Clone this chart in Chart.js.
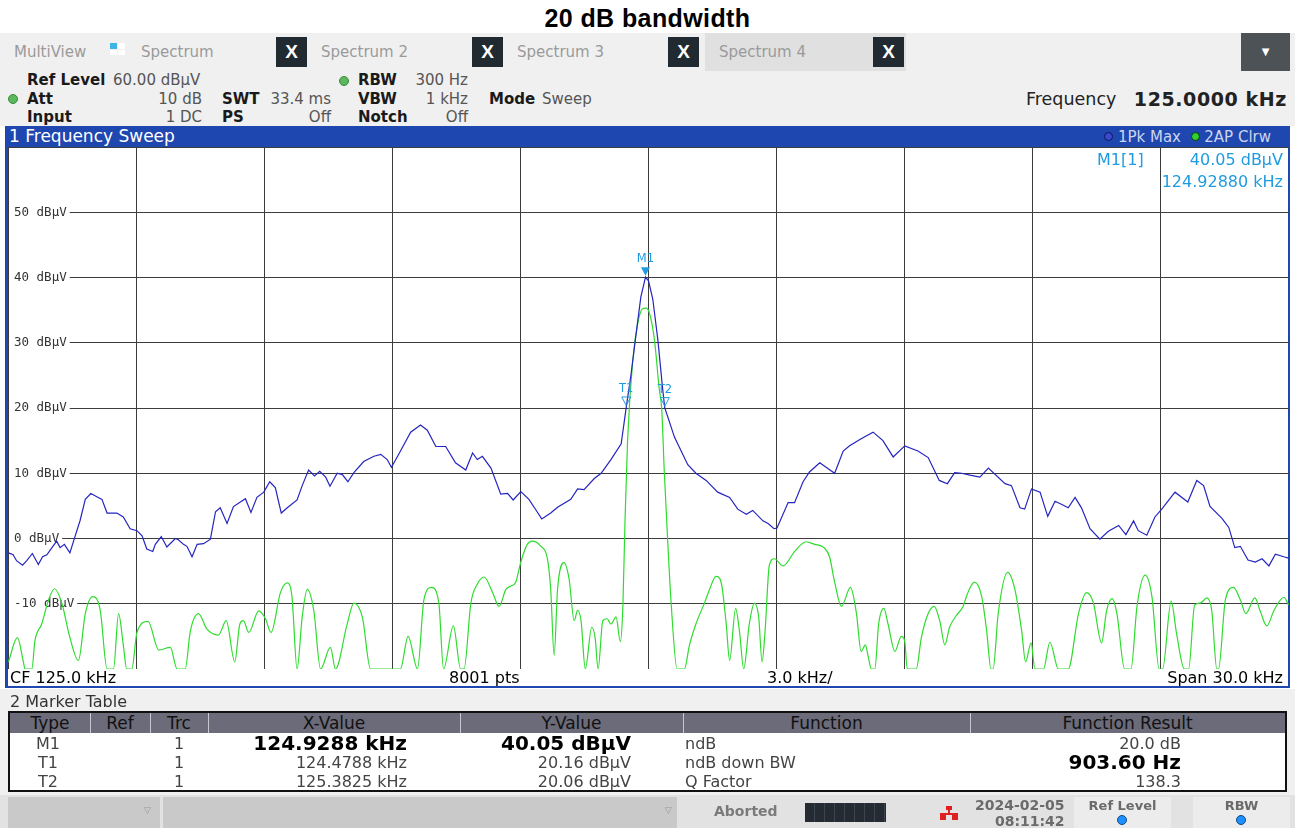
<!DOCTYPE html>
<html>
<head>
<meta charset="utf-8">
<script src="https://cdn.jsdelivr.net/npm/chart.js@4.4.1/dist/chart.umd.min.js"></script>
<style>
body{margin:0;width:1295px;height:828px;position:relative;overflow:hidden;background:#fff;font-family:"DejaVu Sans",sans-serif;}
.a{position:absolute;white-space:nowrap;}
.lbl{font-size:15px;line-height:18px;color:#1a1a1a;font-weight:600;}
.val{font-size:15px;line-height:18px;color:#555;}
.tab{font-size:15px;line-height:18px;color:#9a9a9a;top:43px;}
.x{top:37px;width:31px;height:30px;background:#222a31;color:#fff;font:bold 19px "Liberation Sans",sans-serif;line-height:30px;text-align:center;}
.gdot{width:8px;height:8px;border-radius:50%;background:#5cb85c;border:1px solid #3a8a3a;}
.th{top:713px;height:20px;line-height:20px;font-size:17px;color:#111;text-align:center;}
.td{font-size:16px;line-height:19px;color:#444;}
.tb{font:bold 20px "DejaVu Sans",sans-serif;line-height:19px;color:#000;}
</style>
</head>
<body>
<div class="a" style="left:0;top:4px;width:1295px;text-align:center;font:bold 25px 'Liberation Sans',Arial,sans-serif;letter-spacing:0.4px;">20 dB bandwidth</div>

<!-- header panel -->
<div class="a" style="left:0;top:33px;width:1295px;height:93px;background:#f0f0f0;"></div>
<div class="a tab" style="left:14px;">MultiView</div>
<div class="a" style="left:110px;top:43px;width:7px;height:6px;background:#3cb4e6;"></div>
<div class="a" style="left:118px;top:43px;width:7px;height:6px;background:#fff;"></div>
<div class="a" style="left:110px;top:50px;width:7px;height:5px;background:#fff;"></div>
<div class="a" style="left:118px;top:50px;width:7px;height:5px;background:#fff;"></div>
<div class="a tab" style="left:141px;">Spectrum</div>
<div class="a x" style="left:276px;">X</div>
<div class="a tab" style="left:321px;">Spectrum 2</div>
<div class="a x" style="left:472px;">X</div>
<div class="a tab" style="left:517px;">Spectrum 3</div>
<div class="a x" style="left:668px;">X</div>
<div class="a" style="left:705px;top:33px;width:201px;height:38px;background:#e0e0e0;"></div>
<div class="a tab" style="left:719px;">Spectrum 4</div>
<div class="a x" style="left:873px;">X</div>
<div class="a" style="left:1241px;top:33px;width:49px;height:38px;background:#4d5257;color:#fff;font-size:10px;line-height:38px;text-align:center;">▼</div>

<div class="a lbl" style="left:27px;top:71px;">Ref Level</div>
<div class="a val" style="left:113px;top:71px;">60.00 dBμV</div>
<div class="a gdot" style="left:339px;top:76px;"></div>
<div class="a lbl" style="left:358px;top:71px;">RBW</div>
<div class="a val" style="right:827px;top:71px;">300 Hz</div>

<div class="a gdot" style="left:8px;top:94px;"></div>
<div class="a lbl" style="left:27px;top:90px;">Att</div>
<div class="a val" style="right:1093px;top:90px;">10 dB</div>
<div class="a lbl" style="left:222px;top:90px;">SWT</div>
<div class="a val" style="right:964px;top:90px;">33.4 ms</div>
<div class="a lbl" style="left:358px;top:90px;">VBW</div>
<div class="a val" style="right:827px;top:90px;">1 kHz</div>
<div class="a lbl" style="left:489px;top:90px;">Mode</div>
<div class="a val" style="left:542px;top:90px;">Sweep</div>

<div class="a lbl" style="left:27px;top:108px;">Input</div>
<div class="a val" style="right:1093px;top:108px;">1 DC</div>
<div class="a lbl" style="left:222px;top:108px;">PS</div>
<div class="a val" style="right:964px;top:108px;">Off</div>
<div class="a lbl" style="left:358px;top:108px;">Notch</div>
<div class="a val" style="right:827px;top:108px;">Off</div>

<div class="a" style="left:1026px;top:88px;font-size:17.5px;line-height:22px;color:#222;">Frequency</div>
<div class="a" style="right:8px;top:88px;font-size:19px;line-height:22px;font-weight:600;letter-spacing:0.6px;color:#222;">125.0000 kHz</div>

<!-- window 1 -->
<div class="a" style="left:5px;top:126px;width:1280px;height:560px;border-left:3px solid #1f47b0;border-right:2px solid #1f47b0;border-bottom:2px solid #1f47b0;background:#fff;"></div>
<div class="a" style="left:5px;top:126px;width:1285px;height:21px;background:#1f47b0;"></div>
<div class="a" style="left:9px;top:127px;font-size:17px;line-height:19px;color:#fff;">1 Frequency Sweep</div>
<div class="a" style="right:24px;top:128px;font-size:15px;line-height:18px;color:#cdd5ee;">
<span style="display:inline-block;width:7px;height:7px;border-radius:50%;background:#3b48d0;border:1px solid #0c1650;vertical-align:1px;"></span> 1Pk Max&nbsp;
<span style="display:inline-block;width:7px;height:7px;border-radius:50%;background:#30d030;border:1px solid #0a3a0a;vertical-align:1px;"></span> 2AP Clrw</div>

<div class="a" style="left:8px;top:147px;width:1281px;height:522px;"><canvas id="spec" width="1281" height="522"></canvas></div>

<div class="a" style="left:1097px;top:150px;font-size:16px;line-height:19px;color:#1f9be0;">M1[1]</div>
<div class="a" style="right:12px;top:150px;font-size:16px;line-height:19px;color:#1f9be0;">40.05 dBμV</div>
<div class="a" style="right:12px;top:172px;font-size:16px;line-height:19px;color:#1f9be0;">124.92880 kHz</div>

<div class="a" style="left:10px;top:668px;font-size:16px;line-height:19px;color:#000;">CF 125.0 kHz</div>
<div class="a" style="left:449px;top:668px;font-size:16px;line-height:19px;color:#000;">8001 pts</div>
<div class="a" style="left:767px;top:668px;font-size:16px;line-height:19px;color:#000;">3.0 kHz/</div>
<div class="a" style="right:12px;top:668px;font-size:16px;line-height:19px;color:#000;">Span 30.0 kHz</div>

<!-- marker table -->
<div class="a" style="left:0;top:689px;width:1295px;height:106px;background:#f0f0f0;"></div>
<div class="a" style="left:10px;top:692px;font-size:16px;line-height:19px;color:#333;">2 Marker Table</div>
<div class="a" style="left:8px;top:711px;width:1275px;height:77px;border:2px solid #111;background:#fff;"></div>
<div class="a" style="left:10px;top:713px;width:1275px;height:20px;background:#6b6b79;"></div>
<div class="a" style="left:90px;top:713px;width:1px;height:20px;background:#c8c8d0;"></div>
<div class="a" style="left:150px;top:713px;width:1px;height:20px;background:#c8c8d0;"></div>
<div class="a" style="left:208px;top:713px;width:1px;height:20px;background:#c8c8d0;"></div>
<div class="a" style="left:460px;top:713px;width:1px;height:20px;background:#c8c8d0;"></div>
<div class="a" style="left:683px;top:713px;width:1px;height:20px;background:#c8c8d0;"></div>
<div class="a" style="left:970px;top:713px;width:1px;height:20px;background:#c8c8d0;"></div>
<div class="a th" style="left:10px;width:80px;">Type</div>
<div class="a th" style="left:90px;width:60px;">Ref</div>
<div class="a th" style="left:150px;width:58px;">Trc</div>
<div class="a th" style="left:208px;width:252px;">X-Value</div>
<div class="a th" style="left:460px;width:223px;">Y-Value</div>
<div class="a th" style="left:683px;width:287px;">Function</div>
<div class="a th" style="left:970px;width:315px;">Function Result</div>

<div class="a td" style="left:8px;width:80px;text-align:center;top:734px;">M1</div>
<div class="a td" style="left:8px;width:80px;text-align:center;top:753px;">T1</div>
<div class="a td" style="left:8px;width:80px;text-align:center;top:772px;">T2</div>
<div class="a td" style="left:169px;width:20px;text-align:center;top:734px;">1</div>
<div class="a td" style="left:169px;width:20px;text-align:center;top:753px;">1</div>
<div class="a td" style="left:169px;width:20px;text-align:center;top:772px;">1</div>
<div class="a tb" style="right:888px;top:734px;">124.9288 kHz</div>
<div class="a td" style="right:888px;top:753px;">124.4788 kHz</div>
<div class="a td" style="right:888px;top:772px;">125.3825 kHz</div>
<div class="a tb" style="right:664px;top:734px;">40.05 dBμV</div>
<div class="a td" style="right:664px;top:753px;">20.16 dBμV</div>
<div class="a td" style="right:664px;top:772px;">20.06 dBμV</div>
<div class="a td" style="left:685px;top:734px;">ndB</div>
<div class="a td" style="left:685px;top:753px;">ndB down BW</div>
<div class="a td" style="left:685px;top:772px;">Q Factor</div>
<div class="a td" style="right:114px;top:734px;">20.0 dB</div>
<div class="a tb" style="right:114px;top:753px;">903.60 Hz</div>
<div class="a td" style="right:114px;top:772px;">138.3</div>

<!-- status bar -->
<div class="a" style="left:0;top:795px;width:1295px;height:33px;background:#e2e2e2;"></div>
<div class="a" style="left:8px;top:797px;width:152px;height:31px;background:#c9c9c9;"></div>
<div class="a" style="left:144px;top:805px;font-size:9px;color:#999;">▽</div>
<div class="a" style="left:163px;top:797px;width:514px;height:31px;background:#c9c9c9;"></div>
<div class="a" style="left:665px;top:805px;font-size:9px;color:#999;">▽</div>
<div class="a" style="left:714px;top:803px;font-size:14px;font-weight:600;color:#7a7a7a;">Aborted</div>
<div class="a" style="left:805px;top:803px;width:81px;height:19px;background:repeating-linear-gradient(90deg,#252b33 0 9px,#3e454e 9px 10px);"></div>
<div class="a" style="left:946px;top:806px;width:6px;height:4px;background:#e02020;"></div>
<div class="a" style="left:948px;top:810px;width:2px;height:4px;background:#e02020;"></div>
<div class="a" style="left:940px;top:813px;width:18px;height:2px;background:#e02020;"></div>
<div class="a" style="left:940px;top:815px;width:6px;height:5px;background:#e02020;"></div>
<div class="a" style="left:952px;top:815px;width:6px;height:5px;background:#e02020;"></div>
<div class="a" style="left:975px;top:797px;font-size:14px;font-weight:600;line-height:16px;color:#6a6a6a;text-align:right;">2024-02-05<br>&nbsp;08:11:42</div>
<div class="a" style="left:1074px;top:797px;width:97px;height:31px;background:#ececec;"></div>
<div class="a" style="left:1074px;top:798px;width:97px;text-align:center;font-size:13px;font-weight:600;color:#6a6a6a;">Ref Level</div>
<div class="a" style="left:1117px;top:815px;width:8px;height:8px;border-radius:50%;background:#1e90ff;border:1px solid #124a80;"></div>
<div class="a" style="left:1193px;top:797px;width:97px;height:31px;background:#ececec;"></div>
<div class="a" style="left:1193px;top:798px;width:97px;text-align:center;font-size:13px;font-weight:600;color:#6a6a6a;">RBW</div>
<div class="a" style="left:1236px;top:815px;width:8px;height:8px;border-radius:50%;background:#1e90ff;border:1px solid #124a80;"></div>

<script>
// trace 1: 1Pk Max (kHz / dBµV)
const blueFreq = [
  110.01, 110.12, 110.20, 110.34, 110.44, 110.57, 110.71, 110.81, 110.91, 111.03,
  111.14, 111.22, 111.32, 111.45, 111.55, 111.69, 111.81, 111.94, 112.08, 112.20,
  112.32, 112.55, 112.70, 112.86, 113.02, 113.14, 113.25, 113.39, 113.45, 113.59,
  113.72, 113.92, 113.99, 114.11, 114.19, 114.31, 114.43, 114.58, 114.74, 114.86,
  114.97, 115.13, 115.28, 115.56, 115.69, 115.83, 115.99, 116.13, 116.26, 116.40,
  116.54, 116.77, 116.89, 117.04, 117.18, 117.30, 117.44, 117.54, 117.71, 117.83,
  117.96, 118.10, 118.33, 118.57, 118.73, 118.88, 118.98, 119.15, 119.43, 119.66,
  119.82, 120.02, 120.25, 120.48, 120.72, 120.88, 120.99, 121.11, 121.31, 121.54,
  121.70, 121.83, 122.01, 122.20, 122.36, 122.50, 122.71, 122.87, 123.18, 123.34,
  123.49, 123.73, 123.89, 124.12, 124.36, 124.48, 124.59, 124.71, 124.82, 124.93,
  125.00, 125.10, 125.22, 125.33, 125.38, 125.61, 125.92, 126.11, 126.35, 126.62,
  126.90, 127.09, 127.29, 127.44, 127.68, 127.80, 127.94, 128.01, 128.27, 128.42,
  128.62, 128.77, 129.01, 129.36, 129.56, 129.71, 129.98, 130.26, 130.49, 130.73,
  131.00, 131.31, 131.55, 131.81, 132.00, 132.17, 132.33, 132.53, 132.76, 132.96,
  133.35, 133.50, 133.70, 133.81, 133.97, 134.17, 134.35, 134.52, 134.68, 134.83,
  134.99, 135.14, 135.34, 135.57, 135.77, 136.01, 136.18, 136.36, 136.47, 136.67,
  136.86, 137.02, 137.33, 137.63, 137.84, 138.00, 138.15, 138.43, 138.59, 138.73,
  138.86, 139.04, 139.21, 139.37, 139.53, 139.68, 139.88, 139.99
];
const blueLevel = [
  -2.2, -2.5, -3.4, -4.1, -3.4, -2.3, -4.0, -2.8, -2.5, -1.4,
  -0.4, -1.4, -0.9, -2.2, -0.1, 2.8, 6.0, 6.9, 6.4, 6.0,
  3.9, 3.9, 3.3, 1.5, 1.2, 0.4, -1.6, -2.0, -0.9, 0.3,
  -1.3, 0.0, -0.2, -0.9, -1.2, -2.8, -0.9, -0.8, -0.1, 4.1,
  4.7, 2.3, 4.9, 6.1, 4.0, 6.3, 7.1, 8.7, 7.8, 3.9,
  4.7, 5.9, 8.1, 10.5, 9.6, 10.3, 9.4, 8.0, 10.0, 9.8,
  8.7, 10.1, 11.8, 12.6, 12.9, 12.1, 10.9, 12.9, 16.3, 17.4,
  16.6, 14.1, 14.1, 11.6, 10.5, 13.1, 12.1, 12.6, 10.8, 6.8,
  6.9, 5.9, 7.2, 6.0, 4.4, 3.0, 3.9, 4.8, 6.0, 7.6,
  7.5, 9.2, 10.0, 12.1, 14.5, 20.16, 25.1, 31.4, 37.0, 40.05,
  39.5, 36.7, 30.4, 23.0, 20.06, 15.5, 11.3, 10.0, 8.9, 7.1,
  6.3, 4.5, 3.7, 4.3, 2.7, 2.3, 1.5, 1.6, 5.5, 5.5,
  8.7, 10.2, 11.6, 10.0, 13.4, 14.2, 15.3, 16.3, 15.0, 12.5,
  14.2, 13.4, 12.4, 8.9, 8.4, 10.1, 10.0, 9.7, 9.4, 10.8,
  8.4, 8.1, 4.7, 4.5, 7.6, 7.1, 3.4, 5.7, 5.2, 4.7,
  6.3, 4.7, 1.5, -0.1, 1.1, 2.0, 0.6, 2.7, 1.2, 0.5,
  3.3, 4.5, 7.1, 5.6, 8.9, 8.1, 4.9, 3.1, 1.7, -1.4,
  -1.2, -3.3, -3.6, -3.1, -4.2, -2.4, -2.8, -3.0
];

// trace 2: AP Clrw (kHz / dBµV), -20 = bottom of the display
const greenFreq = [
  110.01, 110.22, 110.36, 110.40, 110.56, 110.63, 110.79, 110.95, 111.09, 111.26,
  111.45, 111.65, 111.81, 111.99, 112.16, 112.32, 112.47, 112.59, 112.70, 112.78,
  112.90, 113.02, 113.28, 113.53, 113.80, 113.96, 114.15, 114.27, 114.46, 114.66,
  114.93, 115.11, 115.31, 115.43, 115.51, 115.64, 115.87, 116.03, 116.16, 116.38,
  116.54, 116.65, 116.77, 116.89, 117.01, 117.16, 117.32, 117.55, 117.67, 117.94,
  118.10, 118.30, 118.49, 119.19, 119.37, 119.59, 119.74, 119.92, 120.09, 120.20,
  120.43, 120.60, 120.68, 120.84, 120.99, 121.15, 121.35, 121.50, 121.66, 121.77,
  121.89, 122.01, 122.16, 122.28, 122.48, 122.63, 122.71, 122.79, 122.87, 123.02,
  123.14, 123.26, 123.34, 123.42, 123.52, 123.67, 123.75, 123.82, 123.93, 124.03,
  124.12, 124.24, 124.34, 124.40, 124.45, 124.51, 124.63, 124.75, 124.86, 124.94,
  125.02, 125.14, 125.25, 125.31, 125.37, 125.45, 125.53, 125.67, 125.84, 125.96,
  126.11, 126.31, 126.43, 126.58, 126.70, 126.82, 126.90, 127.04, 127.13, 127.23,
  127.36, 127.48, 127.58, 127.66, 127.73, 127.83, 127.95, 128.15, 128.42, 128.69,
  128.89, 129.11, 129.24, 129.36, 129.52, 129.73, 129.87, 129.98, 130.08, 130.14,
  130.22, 130.30, 130.39, 130.51, 130.61, 130.77, 130.92, 131.00, 131.06, 131.27,
  131.39, 131.55, 131.69, 131.82, 131.94, 132.05, 132.21, 132.37, 132.45, 132.63,
  132.80, 132.92, 133.02, 133.07, 133.19, 133.41, 133.58, 133.74, 133.83, 133.96,
  134.05, 134.25, 134.40, 134.60, 134.83, 135.07, 135.26, 135.42, 135.61, 135.73,
  135.86, 135.97, 136.15, 136.30, 136.44, 136.63, 136.79, 136.96, 137.04, 137.24,
  137.37, 137.55, 137.65, 137.79, 137.92, 138.08, 138.19, 138.31, 138.35, 138.51,
  138.70, 138.86, 138.99, 139.20, 139.33, 139.48, 139.65, 139.88, 139.99
];
const greenLevel = [
  -18.9, -15.2, -18.9, -20, -20, -15.7, -13.1, -9.4, -7.7, -9.9,
  -15.2, -18.7, -11.5, -8.9, -11.0, -20, -20, -11.5, -16.3, -20,
  -20, -14.4, -12.7, -17.1, -16.7, -20, -20, -14.2, -11.5, -13.9,
  -14.8, -12.6, -18.9, -13.1, -12.6, -14.4, -11.1, -12.3, -14.4, -8.3,
  -6.8, -8.9, -20, -12.0, -7.8, -11.0, -20, -16.7, -20, -13.2,
  -9.9, -12.1, -20, -20, -15.0, -20, -9.4, -7.5, -9.9, -20,
  -13.4, -20, -20, -9.9, -7.0, -5.9, -8.3, -10.4, -7.8, -7.3,
  -6.7, -3.6, -0.9, -0.4, -1.2, -3.0, -7.8, -17.9, -7.8, -3.7,
  -6.2, -12.6, -11.0, -12.6, -20, -13.6, -15.2, -20, -12.6, -12.3,
  -13.1, -12.0, -15.8, -10.4, 2.8, 15.0, 27.2, 33.0, 35.2, 35.3,
  34.6, 30.4, 23.0, 19.8, 10.2, -0.4, -9.9, -20, -20, -16.3,
  -13.1, -9.9, -7.8, -5.8, -6.7, -13.1, -18.7, -10.7, -14.2, -20,
  -13.1, -9.9, -12.0, -18.9, -14.2, -4.1, -3.1, -4.2, -2.0, -0.5,
  -0.9, -1.4, -2.8, -6.7, -10.4, -7.5, -11.5, -17.3, -16.3, -17.9,
  -20, -20, -13.1, -10.7, -13.1, -17.3, -15.0, -15.7, -20, -20,
  -15.2, -11.5, -10.4, -12.6, -16.3, -13.6, -11.8, -10.4, -8.8, -6.7,
  -8.8, -14.2, -20, -20, -11.5, -5.2, -7.8, -14.2, -18.9, -16.0,
  -20, -20, -15.9, -20, -20, -11.5, -8.3, -9.9, -16.0, -11.0,
  -9.2, -11.5, -20, -20, -10.4, -5.6, -8.9, -20, -20, -9.6,
  -14.7, -20, -20, -10.2, -9.9, -9.1, -11.0, -20, -20, -9.4,
  -7.5, -9.4, -11.5, -9.1, -11.2, -13.4, -11.0, -9.0, -10.2
];

const markerNames = ['M1', 'T1', 'T2'];
const markerFreq = [124.9288, 124.4788, 125.3825];
const markerLevel = [40.05, 20.16, 20.06];

const freqStart = 110, freqStop = 140, freqDiv = 3;
const refLevel = 60, levelBottom = -20, levelDiv = 10;
const levelUnit = 'dBμV';

const markerColor = '#1f9be0';

const specOverlay = {
    id: 'specOverlay',
    beforeDatasetsDraw(chart) {
        const { ctx, chartArea, scales: { y } } = chart;
        ctx.save();
        ctx.font = '12.5px "DejaVu Sans Mono", monospace';
        ctx.textBaseline = 'middle';
        ctx.textAlign = 'left';
        y.ticks.forEach(t => {
            if (t.value <= y.min || t.value >= y.max) return;
            const py = y.getPixelForValue(t.value);
            const label = `${t.value} ${levelUnit}`;
            const w = ctx.measureText(label).width;
            ctx.fillStyle = '#fff';
            ctx.fillRect(chartArea.left + 1, py - 2, w + 8, 4);
            ctx.fillStyle = '#333';
            ctx.fillText(label, chartArea.left + 6, py);
        });
        ctx.restore();
    },
    afterDatasetsDraw(chart) {
        const { ctx, scales: { x, y } } = chart;
        ctx.save();
        ctx.font = '11.5px "DejaVu Sans", sans-serif';
        ctx.textAlign = 'center';
        ctx.textBaseline = 'bottom';
        markerNames.forEach((name, i) => {
            const px = x.getPixelForValue(markerFreq[i]);
            const py = y.getPixelForValue(markerLevel[i]);
            ctx.beginPath();
            ctx.moveTo(px - 4.5, py - 10);
            ctx.lineTo(px + 4.5, py - 10);
            ctx.lineTo(px, py - 1.5);
            ctx.closePath();
            ctx.lineWidth = 1;
            ctx.strokeStyle = markerColor;
            ctx.fillStyle = markerColor;
            if (i === 0) ctx.fill(); else ctx.stroke();
            ctx.fillText(name, px, py - 12);
        });
        ctx.restore();
    }
};

new Chart(document.getElementById('spec'), {
    type: 'line',
    data: {
        datasets: [{
            label: '1Pk Max',
            data: blueFreq.map((f, i) => ({ x: f, y: blueLevel[i] })),
            borderColor: '#2424c0',
            borderWidth: 1.2,
            pointRadius: 0,
            tension: 0
        }, {
            label: '2AP Clrw',
            data: greenFreq.map((f, i) => ({ x: f, y: greenLevel[i] })),
            borderColor: '#2edc2e',
            borderWidth: 1.2,
            pointRadius: 0,
            cubicInterpolationMode: 'monotone'
        }]
    },
    options: {
        responsive: false,
        animation: false,
        layout: { padding: 0 },
        plugins: { legend: { display: false }, tooltip: { enabled: false } },
        scales: {
            x: {
                type: 'linear',
                min: freqStart,
                max: freqStop,
                ticks: { display: false, stepSize: freqDiv },
                grid: { color: '#3c3c3c', drawTicks: false },
                border: { color: '#3c3c3c' }
            },
            y: {
                min: levelBottom,
                max: refLevel,
                ticks: { display: false, stepSize: levelDiv },
                grid: { color: '#3c3c3c', drawTicks: false },
                border: { color: '#3c3c3c' }
            }
        }
    },
    plugins: [specOverlay]
});
</script>
</body>
</html>
